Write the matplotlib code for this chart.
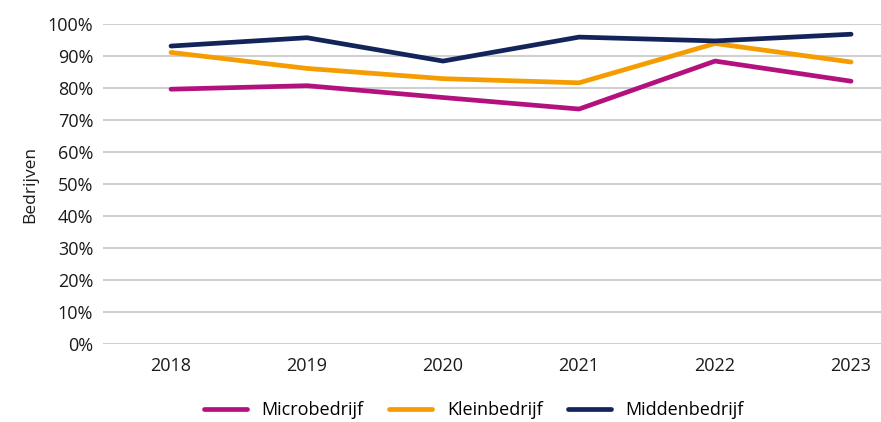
import numpy as np
import matplotlib.pyplot as plt
from matplotlib.ticker import PercentFormatter

plt.rcParams['font.family'] = ['Open Sans', 'DejaVu Sans']

years = ['2018', '2019', '2020', '2021', '2022', '2023']
micro = [79.7, 80.8, 77.1, 73.5, 88.5, 82.2]
klein = [91.2, 86.2, 83.0, 81.7, 94.0, 88.2]
midden = [93.2, 95.8, 88.5, 96.0, 94.8, 96.9]

series = [('Microbedrijf', micro, '#b3127e'),
          ('Kleinbedrijf', klein, '#f59c00'),
          ('Middenbedrijf', midden, '#13245b')]

fig = plt.figure(figsize=(8.81, 4.22), dpi=100)
ax = fig.add_axes([0.1169, 0.1848, 0.8831, 0.7576])

x = np.arange(len(years))
for name, vals, col in series:
    ax.plot(x, vals, color=col, lw=3.4, label=name, solid_capstyle='round')

ax.set_ylim(0, 100)
ax.set_xlim(-0.5, 5.22)
ax.set_yticks(np.arange(0, 101, 10))
ax.yaxis.set_major_formatter(PercentFormatter(decimals=0))
ax.set_xticks(x)
ax.set_xticklabels(years)
ax.grid(axis='y', color='#d0d0d0', lw=1.5)
ax.set_axisbelow(True)
for s in ax.spines.values():
    s.set_visible(False)
ax.tick_params(length=0, labelsize=13, colors='#1a1a1a')
ax.tick_params(axis='x', pad=9)
ax.tick_params(axis='y', pad=7)
ax.set_ylabel('Bedrijven', fontsize=12.5, color='#1a1a1a', labelpad=7)

fig.legend(loc='center', bbox_to_anchor=(0.538, 0.028), ncol=3, frameon=False,
           fontsize=13, handlelength=2.4, columnspacing=1.4, handletextpad=0.8)

fig.savefig('out.png', dpi=100)
